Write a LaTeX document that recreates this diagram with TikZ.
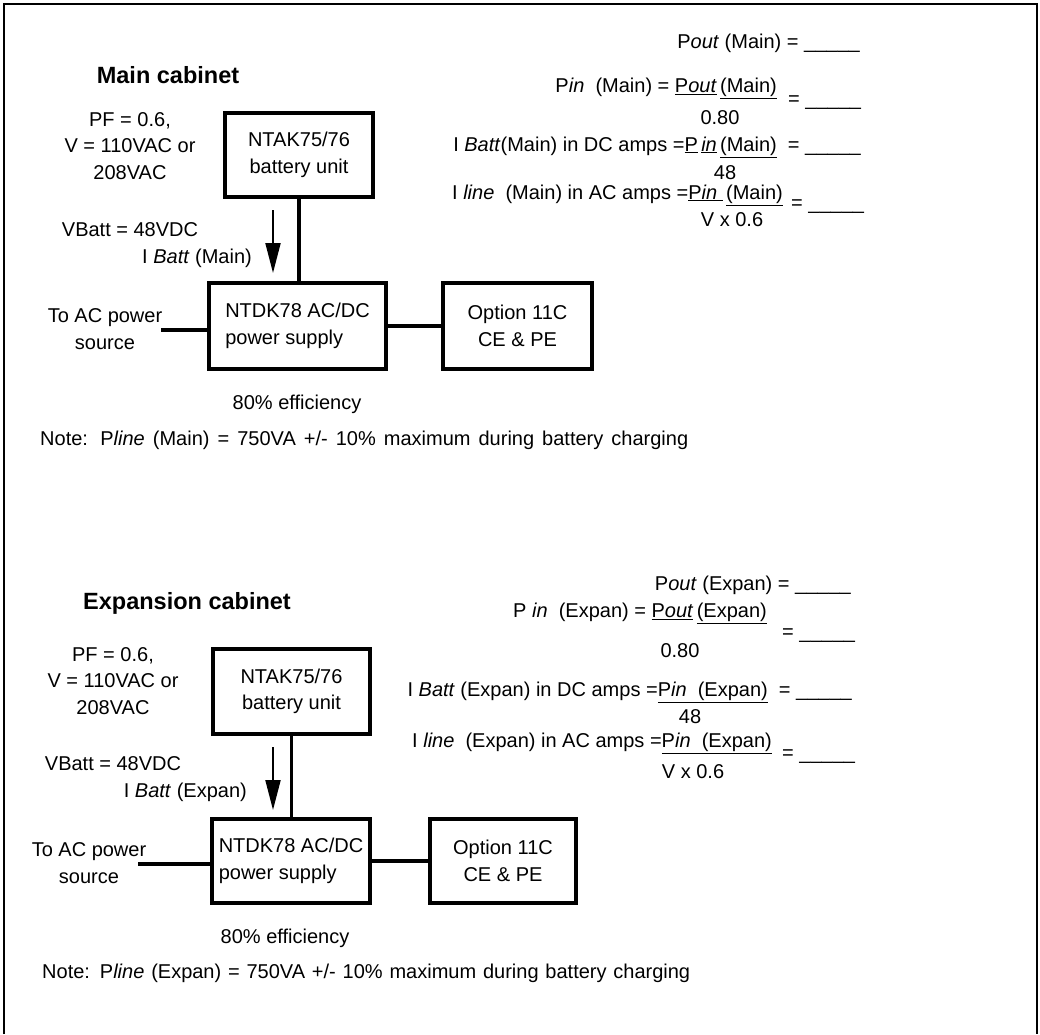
\documentclass[tikz,border=0pt]{standalone}
\usepackage{fontspec}
\setmainfont{Liberation Sans}
\usetikzlibrary{arrows.meta}
\definecolor{cabink}{RGB}{0,0,0}
\newcommand{\ansline}{\_\_\_\_\_}

\tikzset{
  txt/.style={inner sep=0pt, text=cabink, font=\fontsize{20}{26.5}\selectfont, align=center},
  cabhead/.style={inner sep=0pt, text=cabink, font=\fontsize{23.5}{28}\selectfont\bfseries},
  unitbox/.style={draw=cabink, line width=3.2pt, inner sep=0pt, text=cabink,
    font=\fontsize{20}{26.5}\selectfont},
  wire/.style={draw=cabink, line width=3.2pt},
  flow/.style={draw=cabink, line width=2pt, -{Triangle[length=30pt,width=15pt]}},
}

\begin{document}
\begin{tikzpicture}[x=1pt,y=-1pt]
  \useasboundingbox (0,0) rectangle (1040,1034);
  % frame
  \draw[cabink, line width=2.6pt] (4,1034) -- (4,4) -- (1037,4) -- (1037,1034);

  % ---------------- Main cabinet ----------------
  \node[cabhead] (headM) at (168,75) {Main cabinet};
  \node[txt] (pfM) at (130,146) {PF = 0.6,\\V = 110VAC or\\208VAC};
  \node[txt] (vbM) at (130,230) {VBatt = 48VDC};
  \node[txt, anchor=east] (ibM) at (252,258) {I \textit{Batt} (Main)};
  \node[txt] (acM) at (105,329) {To AC power\\source};
  \node[
      unitbox,
      minimum width=148pt,
      minimum height=84pt,
      align=center
  ] (batM) at (299,155) {NTAK75/76\\battery unit};
  \node[
      unitbox,
      minimum width=177pt,
      minimum height=86pt,
      align=left
  ] (psuM) at (297.5,326) {NTDK78 AC/DC\\power supply};
  \node[
      unitbox,
      minimum width=149pt,
      minimum height=86pt,
      align=center
  ] (optM) at (517.5,326) {Option 11C\\CE \& PE};
  \node[txt] (effM) at (297,404) {80\% efficiency};
  \node[txt, anchor=west] (noteM) at (40,440)
      {\makebox[648pt][s]{Note: P\textit{line} (Main) = 750VA +/- 10\% maximum during battery charging}};

  \coordinate (acendM) at (161,330);
  \coordinate (arrtopM) at (273,210);
  \coordinate (arrbotM) at (273,273);
  \draw[wire] (batM.south) -- (batM.south |- psuM.north);
  \draw[wire] (acendM) -- (acendM -| psuM.west);
  \draw[wire] (psuM.east) -- (optM.west);
  \draw[flow] (arrtopM) -- (arrbotM);

  % formulas, main
  \node[txt, anchor=east] (poutM) at (860,43) {P\textit{out} (Main) = \ansline};
  \node[txt, anchor=east] (pinM) at (777,88)
      {P\textit{in}\ \ (Main) = \underline{P\textit{out}}\,\underline{(Main)}};
  \node[txt, anchor=west] (pinresM) at (788,103) {= \ansline};
  \node[txt] (pindenM) at (720,118) {0.80};
  \node[txt, anchor=east] (ibattM) at (861,147)
      {I \textit{Batt}(Main) in DC amps =\underline{P}\,\underline{\textit{in}}\,\underline{(Main)}\ \ = \ansline};
  \node[txt] (ibattdenM) at (725,173) {48};
  \node[txt, anchor=east] (ilineM) at (783,195)
      {I \textit{line}\ \ (Main) in AC amps =\underline{P\textit{in}\ }\,\underline{(Main)}};
  \node[txt, anchor=west] (ilineresM) at (791,207) {= \ansline};
  \node[txt] (ilinedenM) at (732,220) {V x 0.6};

  % ---------------- Expansion cabinet ----------------
  \node[cabhead] (headE) at (187,603) {Expansion cabinet};
  \node[txt] (pfE) at (113,681) {PF = 0.6,\\V = 110VAC or\\208VAC};
  \node[txt] (vbE) at (113,764) {VBatt = 48VDC};
  \node[txt, anchor=east] (ibE) at (247,792) {I \textit{Batt} (Expan)};
  \node[txt] (acE) at (89,863) {To AC power\\source};
  \node[
      unitbox,
      minimum width=157pt,
      minimum height=85pt,
      align=center
  ] (batE) at (291.5,691.5) {NTAK75/76\\battery unit};
  \node[
      unitbox,
      minimum width=158pt,
      minimum height=84pt,
      align=left
  ] (psuE) at (291,861) {NTDK78 AC/DC\\power supply};
  \node[
      unitbox,
      minimum width=146pt,
      minimum height=84pt,
      align=center
  ] (optE) at (503,861) {Option 11C\\CE \& PE};
  \node[txt] (effE) at (285,938) {80\% efficiency};
  \node[txt, anchor=west] (noteE) at (42,973)
      {\makebox[648pt][s]{Note: P\textit{line} (Expan) = 750VA +/- 10\% maximum during battery charging}};

  \coordinate (acendE) at (138,864);
  \coordinate (arrtopE) at (273,747);
  \coordinate (arrbotE) at (273,810);
  \draw[wire] (batE.south) -- (batE.south |- psuE.north);
  \draw[wire] (acendE) -- (acendE -| psuE.west);
  \draw[wire] (psuE.east) -- (optE.west);
  \draw[flow] (arrtopE) -- (arrbotE);

  % formulas, expansion
  \node[txt, anchor=east] (poutE) at (851,585) {P\textit{out} (Expan) = \ansline};
  \node[txt, anchor=east] (pinE) at (767,613)
      {P \textit{in}\ \ (Expan) = \underline{P\textit{out}}\,\underline{(Expan)}};
  \node[txt, anchor=west] (pinresE) at (782,636) {= \ansline};
  \node[txt] (pindenE) at (680,651) {0.80};
  \node[txt, anchor=east] (ibattE) at (852,692)
      {I \textit{Batt} (Expan) in DC amps =\underline{P\textit{in}\ \ (Expan)}\ \ = \ansline};
  \node[txt] (ibattdenE) at (690,717) {48};
  \node[txt, anchor=east] (ilineE) at (772,743)
      {I \textit{line}\ \ (Expan) in AC amps =\underline{P\textit{in}\ \ (Expan)}};
  \node[txt, anchor=west] (ilineresE) at (782,757) {= \ansline};
  \node[txt] (ilinedenE) at (693,772) {V x 0.6};
\end{tikzpicture}
\end{document}
